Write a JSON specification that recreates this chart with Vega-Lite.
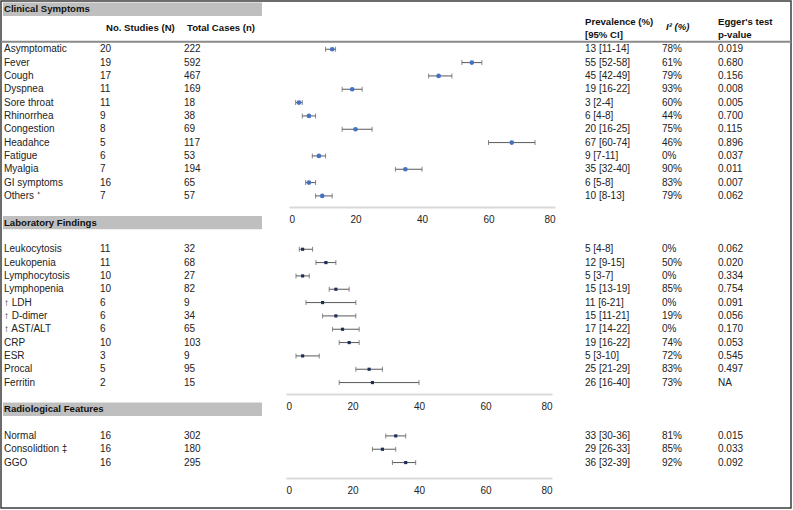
{
  "$schema": "https://vega.github.io/schema/vega-lite/v6.json",
  "width": 790,
  "height": 507,
  "autosize": {"type": "none"},
  "padding": {"left": 1, "top": 1, "right": 2, "bottom": 2},
  "background": "white",
  "config": {
    "font": "Liberation Sans",
    "view": {"stroke": "#3c3c3c", "strokeWidth": 1.5},
    "text": {"font": "Liberation Sans", "fontSize": 10, "color": "#222222", "align": "left", "baseline": "middle"}
  },
  "datasets": {
    "sections": [
      {"section": "Clinical Symptoms"},
      {"section": "Laboratory Findings"},
      {"section": "Radiological Features"}
    ],
    "headers": [
      {"col": "N", "text": "No. Studies (N)"},
      {"col": "n", "text": "Total Cases (n)"},
      {"col": "prev", "text": "Prevalence (%)\n[95% CI]"},
      {"col": "i2", "text": "I² (%)"},
      {"col": "egger", "text": "Egger's test\np-value"}
    ],
    "rows": [
      {"section": "Clinical Symptoms", "item": "Asymptomatic", "N": 20, "n": 222, "est": 13, "lo": 11, "hi": 14, "prev": "13 [11-14]", "i2": "78%", "egger": "0.019"},
      {"section": "Clinical Symptoms", "item": "Fever", "N": 19, "n": 592, "est": 55, "lo": 52, "hi": 58, "prev": "55 [52-58]", "i2": "61%", "egger": "0.680"},
      {"section": "Clinical Symptoms", "item": "Cough", "N": 17, "n": 467, "est": 45, "lo": 42, "hi": 49, "prev": "45 [42-49]", "i2": "79%", "egger": "0.156"},
      {"section": "Clinical Symptoms", "item": "Dyspnea", "N": 11, "n": 169, "est": 19, "lo": 16, "hi": 22, "prev": "19 [16-22]", "i2": "93%", "egger": "0.008"},
      {"section": "Clinical Symptoms", "item": "Sore throat", "N": 11, "n": 18, "est": 3, "lo": 2, "hi": 4, "prev": "3 [2-4]", "i2": "60%", "egger": "0.005"},
      {"section": "Clinical Symptoms", "item": "Rhinorrhea", "N": 9, "n": 38, "est": 6, "lo": 4, "hi": 8, "prev": "6 [4-8]", "i2": "44%", "egger": "0.700"},
      {"section": "Clinical Symptoms", "item": "Congestion", "N": 8, "n": 69, "est": 20, "lo": 16, "hi": 25, "prev": "20 [16-25]", "i2": "75%", "egger": "0.115"},
      {"section": "Clinical Symptoms", "item": "Headahce", "N": 5, "n": 117, "est": 67, "lo": 60, "hi": 74, "prev": "67 [60-74]", "i2": "46%", "egger": "0.896"},
      {"section": "Clinical Symptoms", "item": "Fatigue", "N": 6, "n": 53, "est": 9, "lo": 7, "hi": 11, "prev": "9 [7-11]", "i2": "0%", "egger": "0.037"},
      {"section": "Clinical Symptoms", "item": "Myalgia", "N": 7, "n": 194, "est": 35, "lo": 32, "hi": 40, "prev": "35 [32-40]", "i2": "90%", "egger": "0.011"},
      {"section": "Clinical Symptoms", "item": "GI symptoms", "N": 16, "n": 65, "est": 6, "lo": 5, "hi": 8, "prev": "6 [5-8]", "i2": "83%", "egger": "0.007"},
      {"section": "Clinical Symptoms", "item": "Others ⁺", "N": 7, "n": 57, "est": 10, "lo": 8, "hi": 13, "prev": "10 [8-13]", "i2": "79%", "egger": "0.062"},
      {"section": "Laboratory Findings", "item": "Leukocytosis", "N": 11, "n": 32, "est": 5, "lo": 4, "hi": 8, "prev": "5 [4-8]", "i2": "0%", "egger": "0.062"},
      {"section": "Laboratory Findings", "item": "Leukopenia", "N": 11, "n": 68, "est": 12, "lo": 9, "hi": 15, "prev": "12 [9-15]", "i2": "50%", "egger": "0.020"},
      {"section": "Laboratory Findings", "item": "Lymphocytosis", "N": 10, "n": 27, "est": 5, "lo": 3, "hi": 7, "prev": "5 [3-7]", "i2": "0%", "egger": "0.334"},
      {"section": "Laboratory Findings", "item": "Lymphopenia", "N": 10, "n": 82, "est": 15, "lo": 13, "hi": 19, "prev": "15 [13-19]", "i2": "85%", "egger": "0.754"},
      {"section": "Laboratory Findings", "item": "↑ LDH", "N": 6, "n": 9, "est": 11, "lo": 6, "hi": 21, "prev": "11 [6-21]", "i2": "0%", "egger": "0.091"},
      {"section": "Laboratory Findings", "item": "↑ D-dimer", "N": 6, "n": 34, "est": 15, "lo": 11, "hi": 21, "prev": "15 [11-21]", "i2": "19%", "egger": "0.056"},
      {"section": "Laboratory Findings", "item": "↑ AST/ALT", "N": 6, "n": 65, "est": 17, "lo": 14, "hi": 22, "prev": "17 [14-22]", "i2": "0%", "egger": "0.170"},
      {"section": "Laboratory Findings", "item": "CRP", "N": 10, "n": 103, "est": 19, "lo": 16, "hi": 22, "prev": "19 [16-22]", "i2": "74%", "egger": "0.053"},
      {"section": "Laboratory Findings", "item": "ESR", "N": 3, "n": 9, "est": 5, "lo": 3, "hi": 10, "prev": "5 [3-10]", "i2": "72%", "egger": "0.545"},
      {"section": "Laboratory Findings", "item": "Procal", "N": 5, "n": 95, "est": 25, "lo": 21, "hi": 29, "prev": "25 [21-29]", "i2": "83%", "egger": "0.497"},
      {"section": "Laboratory Findings", "item": "Ferritin", "N": 2, "n": 15, "est": 26, "lo": 16, "hi": 40, "prev": "26 [16-40]", "i2": "73%", "egger": "NA"},
      {"section": "Radiological Features", "item": "Normal", "N": 16, "n": 302, "est": 33, "lo": 30, "hi": 36, "prev": "33 [30-36]", "i2": "81%", "egger": "0.015"},
      {"section": "Radiological Features", "item": "Consolidtion ‡", "N": 16, "n": 180, "est": 29, "lo": 26, "hi": 33, "prev": "29 [26-33]", "i2": "85%", "egger": "0.033"},
      {"section": "Radiological Features", "item": "GGO", "N": 16, "n": 295, "est": 36, "lo": 32, "hi": 39, "prev": "36 [32-39]", "i2": "92%", "egger": "0.092"}
    ]
  },
  "resolve": {"scale": {"x": "independent"}, "axis": {"x": "independent"}},
  "layer": [
    {
      "data": {"name": "sections"},
      "layer": [
        {
          "mark": {"type": "rect", "fill": "#bfbfbf"},
          "encoding": {
            "x": {"datum": "barStart", "type": "nominal", "scale": {"type": "point", "domain": ["barStart", "barEnd"], "range": [2, 261], "padding": 0}, "axis": null},
            "x2": {"datum": "barEnd"},
            "y": {
              "field": "section", "type": "nominal", "axis": null,
              "scale": {
                "type": "band", "paddingInner": 0, "paddingOuter": 0, "range": [1.6, 494.9],
                "domain": ["Clinical Symptoms", "hdr_a", "hdr_b", "Asymptomatic", "Fever", "Cough", "Dyspnea", "Sore throat", "Rhinorrhea", "Congestion", "Headahce", "Fatigue", "Myalgia", "GI symptoms", "Others ⁺", "ax1", "Laboratory Findings", "gap2", "Leukocytosis", "Leukopenia", "Lymphocytosis", "Lymphopenia", "↑ LDH", "↑ D-dimer", "↑ AST/ALT", "CRP", "ESR", "Procal", "Ferritin", "ax2", "Radiological Features", "gap3", "Normal", "Consolidtion ‡", "GGO", "ax3", "ax3lab"]
              }
            }
          }
        },
        {
          "mark": {"type": "text", "fontWeight": "bold", "fontSize": 9.6, "color": "#111111", "dx": 1},
          "encoding": {
            "x": {"datum": "barStart", "type": "nominal"},
            "y": {"field": "section", "type": "nominal", "axis": null},
            "text": {"field": "section"}
          }
        }
      ]
    },
    {
      "data": {"values": [{"line": "header rule"}]},
      "mark": {"type": "rule", "color": "#8a8a8a", "strokeWidth": 2},
      "encoding": {
        "y": {"datum": "hdr_b", "type": "nominal", "bandPosition": 0.93, "axis": null}
      }
    },
    {
      "data": {"name": "rows"},
      "mark": {"type": "text"},
      "encoding": {
        "x": {"datum": "label", "type": "nominal", "scale": {"type": "point", "domain": ["label"], "range": [3, 3], "padding": 0}, "axis": null},
        "y": {"field": "item", "type": "nominal", "axis": null},
        "text": {"field": "item"}
      }
    },
    {
      "layer": [
        {
          "data": {"name": "rows"},
          "mark": {"type": "text"},
          "encoding": {
            "x": {"datum": "val", "type": "nominal", "scale": {"type": "point", "domain": ["val", "hdr"], "range": [99, 105], "padding": 0}, "axis": null},
            "y": {"field": "item", "type": "nominal", "axis": null},
            "text": {"field": "N"}
          }
        },
        {
          "data": {"name": "headers"},
          "transform": [{"filter": "datum.col === 'N'"}],
          "mark": {"type": "text", "fontWeight": "bold", "fontSize": 9.6, "color": "#111111"},
          "encoding": {
            "x": {"datum": "hdr", "type": "nominal"},
            "y": {"datum": "hdr_a", "type": "nominal", "bandPosition": 0.9, "axis": null},
            "text": {"field": "text"}
          }
        }
      ]
    },
    {
      "layer": [
        {
          "data": {"name": "rows"},
          "mark": {"type": "text"},
          "encoding": {
            "x": {"datum": "val", "type": "nominal", "scale": {"type": "point", "domain": ["val", "hdr"], "range": [183, 186], "padding": 0}, "axis": null},
            "y": {"field": "item", "type": "nominal", "axis": null},
            "text": {"field": "n"}
          }
        },
        {
          "data": {"name": "headers"},
          "transform": [{"filter": "datum.col === 'n'"}],
          "mark": {"type": "text", "fontWeight": "bold", "fontSize": 9.6, "color": "#111111"},
          "encoding": {
            "x": {"datum": "hdr", "type": "nominal"},
            "y": {"datum": "hdr_a", "type": "nominal", "bandPosition": 0.9, "axis": null},
            "text": {"field": "text"}
          }
        }
      ]
    },
    {
      "layer": [
        {
          "data": {"name": "rows"},
          "mark": {"type": "text"},
          "encoding": {
            "x": {"datum": "val", "type": "nominal", "scale": {"type": "point", "domain": ["val", "hdr"], "range": [584, 584], "padding": 0}, "axis": null},
            "y": {"field": "item", "type": "nominal", "axis": null},
            "text": {"field": "prev"}
          }
        },
        {
          "data": {"name": "headers"},
          "transform": [{"filter": "datum.col === 'prev'"}],
          "mark": {"type": "text", "fontWeight": "bold", "fontSize": 9.6, "color": "#111111", "lineBreak": "\n", "lineHeight": 13},
          "encoding": {
            "x": {"datum": "hdr", "type": "nominal"},
            "y": {"datum": "hdr_a", "type": "nominal", "bandPosition": 0.45, "axis": null},
            "text": {"field": "text"}
          }
        }
      ]
    },
    {
      "layer": [
        {
          "data": {"name": "rows"},
          "mark": {"type": "text"},
          "encoding": {
            "x": {"datum": "val", "type": "nominal", "scale": {"type": "point", "domain": ["val", "hdr"], "range": [661, 665], "padding": 0}, "axis": null},
            "y": {"field": "item", "type": "nominal", "axis": null},
            "text": {"field": "i2"}
          }
        },
        {
          "data": {"name": "headers"},
          "transform": [{"filter": "datum.col === 'i2'"}],
          "mark": {"type": "text", "fontWeight": "bold", "fontStyle": "italic", "fontSize": 9.6, "color": "#111111"},
          "encoding": {
            "x": {"datum": "hdr", "type": "nominal"},
            "y": {"datum": "hdr_a", "type": "nominal", "bandPosition": 0.85, "axis": null},
            "text": {"field": "text"}
          }
        }
      ]
    },
    {
      "layer": [
        {
          "data": {"name": "rows"},
          "mark": {"type": "text"},
          "encoding": {
            "x": {"datum": "val", "type": "nominal", "scale": {"type": "point", "domain": ["val", "hdr"], "range": [717, 717], "padding": 0}, "axis": null},
            "y": {"field": "item", "type": "nominal", "axis": null},
            "text": {"field": "egger"}
          }
        },
        {
          "data": {"name": "headers"},
          "transform": [{"filter": "datum.col === 'egger'"}],
          "mark": {"type": "text", "fontWeight": "bold", "fontSize": 9.6, "color": "#111111", "lineBreak": "\n", "lineHeight": 13},
          "encoding": {
            "x": {"datum": "hdr", "type": "nominal"},
            "y": {"datum": "hdr_a", "type": "nominal", "bandPosition": 0.45, "axis": null},
            "text": {"field": "text"}
          }
        }
      ]
    },
    {
      "data": {"name": "rows"},
      "transform": [{"filter": "datum.section === 'Clinical Symptoms'"}],
      "encoding": {"y": {"field": "item", "type": "nominal", "axis": null}},
      "layer": [
        {
          "mark": {"type": "rule", "color": "#595959", "strokeWidth": 1},
          "encoding": {
            "x": {"field": "lo", "type": "quantitative", "scale": {"domain": [0, 80], "range": [288, 554], "nice": false, "zero": false},
              "axis": {"orient": "bottom", "offset": -301, "values": [0, 20, 40, 60, 80], "ticks": false, "grid": false, "title": null, "domainColor": "#d9d9d9", "domainWidth": 2, "labelFontSize": 10, "labelColor": "#222222", "labelPadding": 7, "labelFont": "Liberation Sans"}},
            "x2": {"field": "hi"}
          }
        },
        {"mark": {"type": "tick", "color": "#595959", "size": 5, "thickness": 1}, "encoding": {"x": {"field": "lo", "type": "quantitative"}}},
        {"mark": {"type": "tick", "color": "#595959", "size": 5, "thickness": 1}, "encoding": {"x": {"field": "hi", "type": "quantitative"}}},
        {"mark": {"type": "circle", "size": 22, "color": "#4472c4", "opacity": 1}, "encoding": {"x": {"field": "est", "type": "quantitative"}}}
      ]
    },
    {
      "data": {"name": "rows"},
      "transform": [{"filter": "datum.section === 'Laboratory Findings'"}],
      "encoding": {"y": {"field": "item", "type": "nominal", "axis": null}},
      "layer": [
        {
          "mark": {"type": "rule", "color": "#595959", "strokeWidth": 1},
          "encoding": {
            "x": {"field": "lo", "type": "quantitative", "scale": {"domain": [0, 80], "range": [285, 551], "nice": false, "zero": false},
              "axis": {"orient": "bottom", "offset": -114, "values": [0, 20, 40, 60, 80], "ticks": false, "grid": false, "title": null, "domainColor": "#d9d9d9", "domainWidth": 2, "labelFontSize": 10, "labelColor": "#222222", "labelPadding": 7, "labelFont": "Liberation Sans"}},
            "x2": {"field": "hi"}
          }
        },
        {"mark": {"type": "tick", "color": "#595959", "size": 5, "thickness": 1}, "encoding": {"x": {"field": "lo", "type": "quantitative"}}},
        {"mark": {"type": "tick", "color": "#595959", "size": 5, "thickness": 1}, "encoding": {"x": {"field": "hi", "type": "quantitative"}}},
        {"mark": {"type": "square", "size": 10, "color": "#1f2d5a", "opacity": 1}, "encoding": {"x": {"field": "est", "type": "quantitative"}}}
      ]
    },
    {
      "data": {"name": "rows"},
      "transform": [{"filter": "datum.section === 'Radiological Features'"}],
      "encoding": {"y": {"field": "item", "type": "nominal", "axis": null}},
      "layer": [
        {
          "mark": {"type": "rule", "color": "#595959", "strokeWidth": 1},
          "encoding": {
            "x": {"field": "lo", "type": "quantitative", "scale": {"domain": [0, 80], "range": [285, 551], "nice": false, "zero": false},
              "axis": {"orient": "bottom", "offset": -30, "values": [0, 20, 40, 60, 80], "ticks": false, "grid": false, "title": null, "domainColor": "#d9d9d9", "domainWidth": 2, "labelFontSize": 10, "labelColor": "#222222", "labelPadding": 7, "labelFont": "Liberation Sans"}},
            "x2": {"field": "hi"}
          }
        },
        {"mark": {"type": "tick", "color": "#595959", "size": 5, "thickness": 1}, "encoding": {"x": {"field": "lo", "type": "quantitative"}}},
        {"mark": {"type": "tick", "color": "#595959", "size": 5, "thickness": 1}, "encoding": {"x": {"field": "hi", "type": "quantitative"}}},
        {"mark": {"type": "square", "size": 10, "color": "#1f2d5a", "opacity": 1}, "encoding": {"x": {"field": "est", "type": "quantitative"}}}
      ]
    }
  ]
}
